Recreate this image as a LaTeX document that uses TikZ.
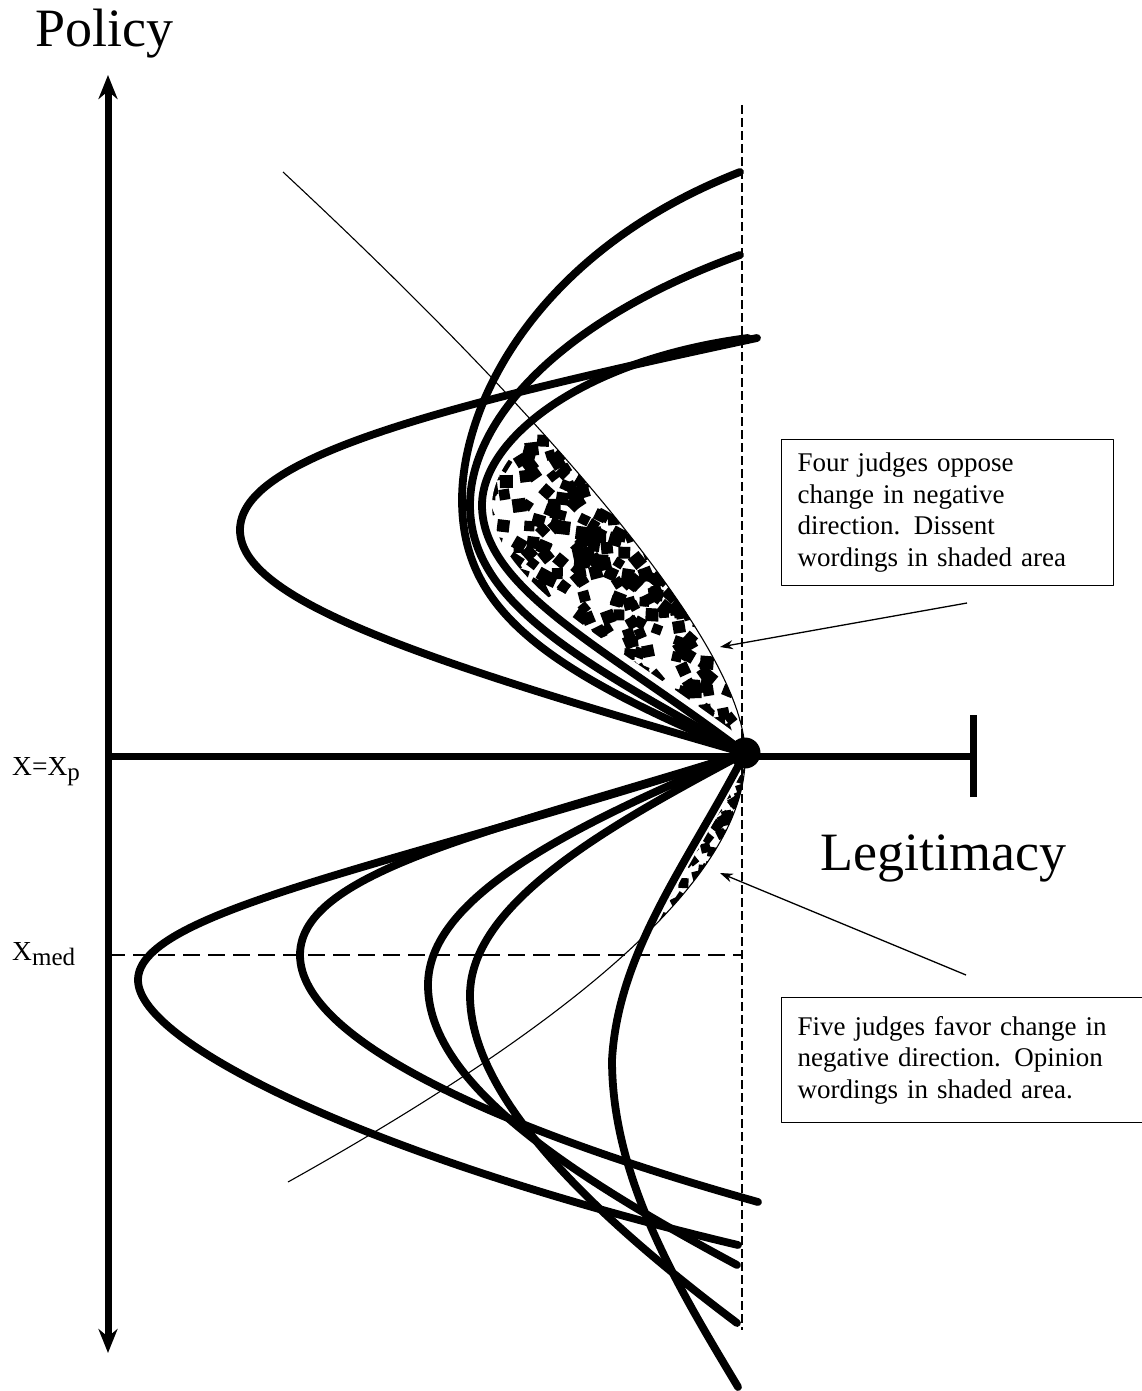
\documentclass[tikz,border=0pt]{standalone}
\usepackage{fontspec}
\setmainfont{Liberation Serif}
\usetikzlibrary{arrows.meta,positioning}

\newcommand{\lowsub}[1]{\raisebox{-5pt}{\fontsize{25}{25}\selectfont #1}}

\begin{document}
\begin{tikzpicture}[x=1pt,y=-1pt,line join=round,
                    >={Stealth[length=13pt,width=9pt]}]
  \tikzstyle{judge}=[line width=7.8pt,line cap=round]
  \tikzstyle{axis}=[line width=7pt]
  \tikzstyle{thinline}=[line width=1.1pt]
  \tikzstyle{guide}=[line width=1.2pt,dash pattern=on 9pt off 4pt]
  \tikzstyle{note}=[draw,line width=1.4pt,anchor=north west,align=left,
                    inner xsep=16pt,font=\fontsize{27}{31.5}\selectfont]
  \tikzstyle{big}=[anchor=base west,inner sep=0pt,font=\fontsize{54}{60}\selectfont]
  \tikzstyle{small}=[anchor=base west,inner sep=0pt,font=\fontsize{27.5}{31}\selectfont]

  \useasboundingbox (0,0) rectangle (1142,1391);

  \coordinate (P) at (745,753);

  % dissent wordings (upper shaded area)
  \pgfmathsetseed{5}
  \begin{scope}
    \clip (283,172) .. controls (560,430) and (745,650) .. (745,753) -- (300,753) -- (300,172) -- cycle;
    \clip (P) .. controls (610,650) and (482,590) .. (482,505)
              .. controls (482,440) and (580,360) .. (748,338) -- cycle;
    \foreach \i in {1,...,560} {
      \pgfmathsetmacro{\dx}{480+270*rnd}
      \pgfmathsetmacro{\dy}{420+335*rnd}
      \pgfmathsetmacro{\ang}{90*rnd}
      \pgfmathsetmacro{\sz}{4.5+2.3*rnd}
      \fill[shift={(\dx,\dy)},rotate=\ang] (-\sz,-\sz) rectangle (\sz,\sz);
    }
    \draw[white,line width=20pt] (P) .. controls (610,650) and (482,590) .. (482,505)
              .. controls (482,440) and (580,360) .. (748,338);
  \end{scope}

  % opinion wordings (lower shaded area)
  \begin{scope}
    \clip (P) .. controls (750,880) and (560,1030) .. (288,1182) -- (288,753) -- cycle;
    \clip (P) .. controls (690,860) and (618,950) .. (612,1060) -- (800,1060) -- (800,753) -- cycle;
    \foreach \i in {1,...,160} {
      \pgfmathsetmacro{\dx}{650+100*rnd}
      \pgfmathsetmacro{\dy}{760+160*rnd}
      \pgfmathsetmacro{\ang}{90*rnd}
      \pgfmathsetmacro{\sz}{3.8+1.5*rnd}
      \fill[shift={(\dx,\dy)},rotate=\ang] (-\sz,-\sz) rectangle (\sz,\sz);
    }
    \draw[white,line width=12pt] (P) .. controls (690,860) and (618,950) .. (612,1060);
  \end{scope}

  % guide lines
  \coordinate (topGuide) at (742,105);
  \coordinate (botGuide) at (742,1330);
  \coordinate (medLeft) at (108,955);
  \coordinate (medRight) at (742,955);
  \draw[guide] (topGuide) -- (botGuide);
  \draw[line width=1.4pt,dash pattern=on 17pt off 8pt] (medLeft) -- (medRight);

  % thin curve
  \draw[thinline] (283,172) .. controls (560,430) and (745,650) .. (P)
                  .. controls (750,880) and (560,1030) .. (288,1182);

  % four judges opposed
  \draw[judge] (P) .. controls (420,660) and (240,600) .. (240,530)
                   .. controls (240,460) and (420,410) .. (757,338);
  \draw[judge] (P) .. controls (545,670) and (462,610) .. (462,500)
                   .. controls (462,400) and (540,250) .. (740,172);
  \draw[judge] (P) .. controls (575,660) and (470,600) .. (470,505)
                   .. controls (470,420) and (560,320) .. (740,255);
  \draw[judge] (P) .. controls (610,650) and (482,590) .. (482,505)
                   .. controls (482,440) and (580,360) .. (748,338);

  % five judges in favour
  \draw[judge] (P) .. controls (400,865) and (138,910) .. (138,980)
                   .. controls (138,1045) and (380,1160) .. (738,1245);
  \draw[judge] (P) .. controls (500,830) and (300,870) .. (300,955)
                   .. controls (300,1040) and (500,1130) .. (758,1202);
  \draw[judge] (P) .. controls (560,830) and (428,900) .. (428,985)
                   .. controls (428,1080) and (560,1170) .. (737,1265);
  \draw[judge] (P) .. controls (620,820) and (470,900) .. (470,995)
                   .. controls (470,1100) and (600,1220) .. (737,1323);
  \draw[judge] (P) .. controls (690,860) and (618,950) .. (612,1060)
                   .. controls (612,1180) and (680,1290) .. (738,1387);

  % axes
  \coordinate (policyTop) at (108,75);
  \coordinate (policyBot) at (108,1353);
  \coordinate (legitEnd) at (973,756);
  \draw[axis,{Stealth[length=24pt,width=19pt]}-{Stealth[length=24pt,width=19pt]}] (policyTop) -- (policyBot);
  \draw[axis] (108,756) -- (legitEnd);
  \draw[axis] ([yshift=-41pt]legitEnd) -- ([yshift=41pt]legitEnd);
  \node[circle,fill,inner sep=0pt,minimum size=31pt] (xp) at (P) {};

  % labels
  \node[big] (policy) at (35,47) {Policy};
  \node[big] (legit) at (820,870) {Legitimacy};
  \node[small] (xplabel) at (12,775) {X=X\lowsub{p}};
  \node[small] (xmedlabel) at (12,960) {X\lowsub{med}};

  % notes
  \node[note,text width=300pt,minimum height=146pt] (dissent) at (781,439)
    {Four judges oppose\\change in negative\\direction. Dissent\\wordings in shaded area};
  \node[note,text width=340pt,minimum height=125pt] (opinion) at (781,997)
    {Five judges favor change in\\negative direction. Opinion\\wordings in shaded area.};

  \coordinate (dissentTail) at (967,603);
  \coordinate (dissentTip) at (720,647);
  \coordinate (opinionTail) at (966,975);
  \coordinate (opinionTip) at (720,873);
  \draw[->,line width=1.3pt] (dissentTail) -- (dissentTip);
  \draw[->,line width=1.3pt] (opinionTail) -- (opinionTip);
\end{tikzpicture}
\end{document}
